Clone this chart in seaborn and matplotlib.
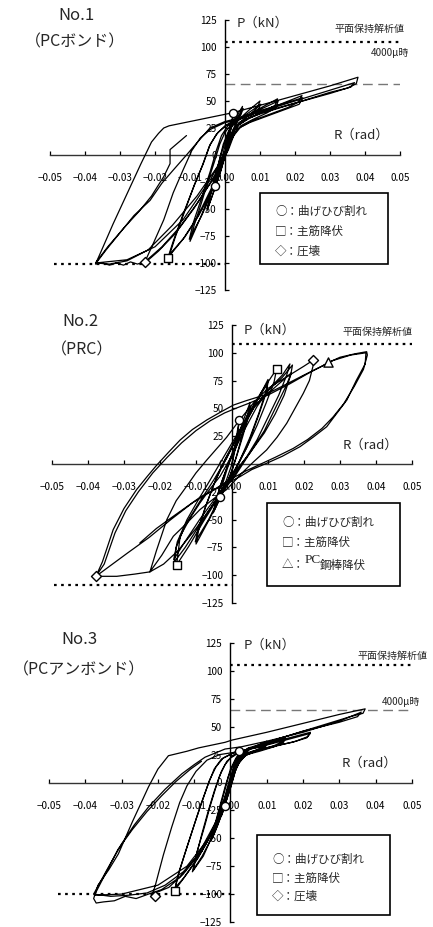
import matplotlib
matplotlib.use("Agg")
import matplotlib.pyplot as plt
from matplotlib.patches import Rectangle
import seaborn as sns
import pandas as pd

sns.set_theme(style="white")
plt.rcParams['font.family'] = ['Noto Sans CJK JP', 'DejaVu Sans']
plt.rcParams['axes.unicode_minus'] = True

# ---------------------------------------------------------------------------
# Load–drift hysteresis records (R in rad, P in kN), digitised as (R, P) pairs
# ---------------------------------------------------------------------------

# No.1  PC bonded
no1_small = [(0, 0), (0.0008, 15), (0.0016, 28), (0.0024, 38), (0.0021, 31), (0.0013, 18), (0.0004, 5),
             (-0.0008, -10), (-0.0018, -20), (-0.0029, -29), (-0.0024, -20), (-0.0012, -6), (0.0, 8),
             (0.0012, 20), (0.0028, 33), (0.005, 45), (0.0046, 39), (0.0032, 30), (0.0018, 20), (0.0006, 6),
             (-0.0012, -15), (-0.003, -32), (-0.005, -50), (-0.0043, -38), (-0.003, -22), (-0.0017, -6),
             (-0.0005, 10), (0.001, 22), (0.003, 32), (0.0052, 43), (0.0045, 37), (0.003, 27), (0.0012, 12),
             (-0.0005, -6), (-0.0028, -30), (-0.0052, -52), (-0.0044, -40), (-0.0028, -20), (-0.0012, 0),
             (0.0002, 14), (0.0015, 25)]
no1_mid = [(0.004, 33), (0.007, 42), (0.01, 50), (0.0093, 44), (0.007, 37), (0.0045, 31), (0.0025, 24),
           (0.001, 12), (0.0, 0), (-0.0035, -30), (-0.007, -58), (-0.01, -80), (-0.0088, -65),
           (-0.0068, -45), (-0.0048, -24), (-0.003, -6), (-0.0015, 10), (0.0, 21), (0.0015, 27),
           (0.005, 35), (0.0102, 47), (0.0095, 42), (0.007, 35), (0.004, 28), (0.002, 20), (0.0005, 6),
           (-0.003, -28), (-0.0065, -55), (-0.0102, -78), (-0.009, -62), (-0.0065, -38), (-0.0042, -15),
           (-0.0025, 4), (-0.001, 18), (0.0008, 27), (0.006, 36), (0.011, 45), (0.015, 52), (0.0143, 46),
           (0.011, 40), (0.007, 34), (0.004, 28), (0.002, 20), (0.0008, 8), (-0.003, -25), (-0.008, -58),
           (-0.012, -78), (-0.0163, -95), (-0.0148, -80), (-0.012, -55), (-0.009, -30), (-0.0065, -10),
           (-0.0045, 8), (-0.0025, 19), (0.0, 27), (0.002, 30), (0.008, 39), (0.0152, 50), (0.0145, 44),
           (0.012, 39), (0.008, 33), (0.0045, 27), (0.0022, 18), (0.0008, 5), (-0.003, -28),
           (-0.0075, -56), (-0.0115, -76), (-0.0158, -92), (-0.0142, -76), (-0.0115, -52), (-0.0088, -28),
           (-0.0062, -8), (-0.0042, 10), (-0.002, 21), (0.001, 29)]
no1_22 = [(0.008, 38), (0.015, 46), (0.022, 55), (0.021, 49), (0.018, 44), (0.013, 38), (0.008, 32),
          (0.0045, 26), (0.0025, 18), (0.001, 5), (-0.003, -20), (-0.008, -45), (-0.013, -67),
          (-0.018, -85), (-0.0229, -99), (-0.0205, -82), (-0.0175, -60), (-0.0148, -35), (-0.012, -14),
          (-0.0095, 4), (-0.007, 16), (-0.004, 24), (0.0, 30), (0.003, 32), (0.01, 41), (0.0222, 53),
          (0.0212, 47), (0.017, 42), (0.012, 36), (0.007, 30), (0.0035, 24), (0.0015, 12), (0.0, -2),
          (-0.004, -25), (-0.009, -50), (-0.014, -72), (-0.019, -89), (-0.0222, -98), (-0.025, -101),
          (-0.027, -99), (-0.029, -102), (-0.031, -100), (-0.033, -102), (-0.035, -100), (-0.037, -101)]
no1_38 = [(-0.0355, -90), (-0.032, -64), (-0.028, -36), (-0.024, -8), (-0.021, 12), (-0.019, 20),
          (-0.0175, 25), (-0.016, 27), (-0.01, 31), (-0.004, 35), (0.002, 39), (0.01, 46), (0.02, 55),
          (0.03, 64), (0.038, 72), (0.0375, 66), (0.035, 62), (0.03, 58), (0.024, 52), (0.017, 45),
          (0.01, 38), (0.005, 32), (0.0025, 24), (0.001, 10), (-0.002, -10), (-0.008, -38), (-0.015, -65),
          (-0.022, -88), (-0.028, -98), (-0.033, -101), (-0.0368, -100), (-0.034, -88), (-0.03, -72),
          (-0.026, -56), (-0.0214, -42), (-0.018, -26), (-0.0148, -14), (-0.011, 0), (-0.0081, 11),
          (-0.0043, 25), (0.0, 31), (0.005, 35), (0.015, 45), (0.025, 55), (0.033, 63), (0.037, 67),
          (0.036, 63), (0.03, 57), (0.02, 48), (0.01, 39), (0.004, 30), (0.0015, 16), (0.0, 2),
          (-0.004, -22), (-0.012, -60), (-0.02, -85), (-0.028, -97), (-0.037, -100), (-0.0335, -85),
          (-0.029, -68), (-0.0245, -52), (-0.021, -38), (-0.0175, -20), (-0.0157, -8), (-0.0157, 5),
          (-0.011, 18)]

# No.2  PRC
no2_small = [(0, 0), (0.001, 20), (0.002, 39.6), (0.0017, 30), (0.001, 15), (0.0, 0), (-0.0015, -14),
             (-0.0033, -29.4), (-0.0028, -20), (-0.0015, -6), (0.0, 8), (0.0015, 22), (0.003, 38),
             (0.005, 55), (0.0045, 46), (0.003, 28), (0.0015, 10), (0.0, -6), (-0.002, -22), (-0.005, -42),
             (-0.0045, -33), (-0.003, -17), (-0.001, 0), (0.001, 14), (0.003, 33), (0.0052, 52),
             (0.0045, 42), (0.003, 25), (0.0012, 6), (-0.0005, -10), (-0.0025, -25), (-0.0052, -44),
             (-0.0044, -32), (-0.0025, -13), (-0.0005, 5), (0.0015, 22)]
no2_mid = [(0.004, 38), (0.007, 57), (0.01, 76), (0.0095, 66), (0.0075, 46), (0.005, 24), (0.002, 2),
           (0.0, -10), (-0.003, -28), (-0.006, -48), (-0.01, -72), (-0.0093, -60), (-0.0075, -40),
           (-0.005, -18), (-0.002, 4), (0.001, 22), (0.005, 47), (0.01, 73), (0.0093, 62), (0.0072, 42),
           (0.0045, 18), (0.0015, -2), (-0.003, -27), (-0.0065, -50), (-0.0102, -70), (-0.0092, -56),
           (-0.007, -35), (-0.0045, -14), (-0.0015, 6), (0.0015, 25), (0.004, 42), (0.008, 64),
           (0.0124, 85.4), (0.0117, 74), (0.0095, 55), (0.007, 35), (0.004, 14), (0.001, -4),
           (-0.003, -26), (-0.008, -52), (-0.012, -74), (-0.0154, -90.8), (-0.0144, -65), (-0.0115, -48),
           (-0.0089, -35), (-0.006, -22), (-0.0033, -11), (0.0004, 10), (0.003, 28), (0.007, 52),
           (0.011, 70), (0.014, 80), (0.0161, 90), (0.0152, 80), (0.013, 62), (0.01, 42), (0.007, 22),
           (0.004, 6), (0.001, -8), (-0.004, -30), (-0.009, -55), (-0.013, -75), (-0.016, -88),
           (-0.0155, -75), (-0.013, -55), (-0.009, -34), (-0.005, -14), (-0.0015, 5), (0.002, 28),
           (0.006, 50), (0.01, 66), (0.014, 78), (0.0168, 89), (0.0163, 80), (0.0145, 62), (0.012, 45),
           (0.009, 28), (0.005, 10), (0.001, -6), (-0.004, -28), (-0.009, -50), (-0.0135, -72),
           (-0.0162, -86), (-0.0152, -70), (-0.0125, -50), (-0.0095, -33), (-0.006, -14), (-0.002, 8),
           (0.002, 30), (0.006, 52)]
no2_22 = [(0.0165, 82), (0.015, 70), (0.012, 50), (0.009, 30), (0.005, 10), (0.001, -10), (-0.005, -35),
          (-0.01, -58), (-0.015, -78), (-0.019, -90), (-0.0228, -97), (-0.021, -78), (-0.0181, -50),
          (-0.0155, -33), (-0.0126, -20), (-0.01, -8), (-0.007, 3.6), (-0.0015, 24), (0.0022, 40),
          (0.006, 55), (0.01, 68), (0.015, 78), (0.02, 88), (0.0226, 93.5), (0.0225, 88), (0.0215, 75),
          (0.0198, 63.5), (0.0175, 50), (0.0152, 36.6), (0.0125, 24), (0.0096, 12.6), (0.006, 2),
          (0.0028, -8), (-0.0015, -23), (-0.005, -31), (-0.0089, -41), (-0.0125, -53), (-0.0163, -65),
          (-0.0195, -82), (-0.0228, -97), (-0.027, -99), (-0.032, -101), (-0.0378, -101)]
no2_38 = [(-0.036, -88), (-0.033, -59), (-0.03, -40), (-0.0265, -23), (-0.0235, -11), (-0.0209, -1),
          (-0.0175, 11), (-0.0144, 21.6), (-0.011, 31), (-0.007, 39.6), (-0.003, 47), (0.0004, 53),
          (0.004, 57), (0.009, 62), (0.014, 70), (0.02, 80), (0.025, 88), (0.0266, 91), (0.03, 96),
          (0.034, 99), (0.0374, 101), (0.0376, 98), (0.0365, 85), (0.034, 70), (0.031, 54), (0.028, 42),
          (0.025, 32), (0.021, 22), (0.017, 14), (0.012, 6), (0.008, 0), (0.004, -6), (0.0, -13),
          (-0.005, -23), (-0.011, -35), (-0.017, -50), (-0.023, -66), (-0.029, -80), (-0.034, -92),
          (-0.0378, -101), (-0.0355, -90), (-0.0325, -62), (-0.0295, -42), (-0.026, -25), (-0.022, -8),
          (-0.018, 6), (-0.014, 19), (-0.01, 30), (-0.006, 39), (-0.002, 46), (0.001, 50), (0.005, 55),
          (0.01, 62), (0.016, 72), (0.022, 83), (0.028, 93), (0.033, 98), (0.0372, 100), (0.037, 90),
          (0.0345, 75), (0.0319, 57.5), (0.029, 45), (0.0263, 33.5), (0.0225, 24), (0.0189, 15.6),
          (0.014, 7), (0.0096, 0.6), (0.0055, -5), (0.0022, -11.4), (-0.003, -20), (-0.0089, -30),
          (-0.0163, -47), (-0.021, -58), (-0.0256, -71)]

# No.3  PC unbonded
no3_small = [(0, 0), (0.001, 15), (0.0024, 27.8), (0.002, 22), (0.001, 10), (0.0, 0), (-0.0015, -21),
             (-0.0025, -30), (-0.002, -20), (-0.001, -6), (0.0, 6), (0.0015, 18), (0.003, 27), (0.005, 31),
             (0.0045, 27), (0.003, 22), (0.0015, 12), (0.0, -5), (-0.002, -24), (-0.0035, -38),
             (-0.005, -50), (-0.0044, -40), (-0.0032, -26), (-0.0018, -10), (-0.0006, 5), (0.0008, 16),
             (0.002, 24), (0.0052, 30), (0.0046, 27), (0.003, 22), (0.0013, 10), (-0.0003, -8),
             (-0.0022, -27), (-0.004, -42), (-0.0053, -52), (-0.0045, -40), (-0.003, -22), (-0.0015, -4),
             (0.0, 12), (0.0015, 22)]
no3_mid = [(0.005, 30), (0.008, 34), (0.01, 37), (0.0095, 33), (0.007, 29), (0.004, 25), (0.002, 18),
           (0.0008, 6), (-0.002, -22), (-0.005, -48), (-0.0075, -66), (-0.0105, -80), (-0.0095, -66),
           (-0.0078, -45), (-0.006, -24), (-0.0045, -8), (-0.003, 6), (-0.0015, 16), (0.0, 22), (0.002, 26),
           (0.006, 31), (0.0102, 35), (0.0096, 32), (0.007, 28), (0.004, 24), (0.0018, 15), (0.0005, 3),
           (-0.002, -24), (-0.0048, -47), (-0.0078, -66), (-0.0102, -78), (-0.0092, -62), (-0.0072, -40),
           (-0.0055, -20), (-0.004, -4), (-0.0025, 10), (-0.001, 19), (0.001, 25), (0.006, 31), (0.01, 35),
           (0.015, 41), (0.0145, 37), (0.012, 33), (0.008, 29), (0.005, 26), (0.0025, 20), (0.001, 8),
           (-0.002, -20), (-0.005, -45), (-0.009, -68), (-0.0125, -84), (-0.0154, -96.8), (-0.0145, -84),
           (-0.0122, -60), (-0.01, -38), (-0.008, -18), (-0.0062, -2), (-0.0045, 12), (-0.0025, 21),
           (0.0005, 26), (0.003, 28), (0.008, 33), (0.0152, 40), (0.0146, 36), (0.012, 32), (0.008, 28),
           (0.0045, 25), (0.0022, 18), (0.0006, 5), (-0.002, -20), (-0.0055, -48), (-0.0095, -70),
           (-0.013, -86), (-0.0152, -94), (-0.0142, -80), (-0.0118, -56), (-0.0095, -33), (-0.0075, -14),
           (-0.0058, 2), (-0.004, 14), (-0.002, 22), (0.001, 27)]
no3_22 = [(0.008, 32), (0.015, 39), (0.022, 45), (0.0212, 41), (0.018, 37), (0.013, 33), (0.008, 29),
          (0.004, 26), (0.002, 18), (0.0005, 4), (-0.0015, -15), (-0.004, -38), (-0.008, -62),
          (-0.013, -82), (-0.017, -94), (-0.0215, -100), (-0.0207, -92), (-0.0185, -65), (-0.0162, -40),
          (-0.014, -18), (-0.012, -3), (-0.0095, 10), (-0.0065, 20), (-0.003, 25), (0.001, 27),
          (0.007, 31), (0.014, 37), (0.022, 44), (0.021, 40), (0.017, 36), (0.011, 32), (0.006, 28),
          (0.003, 24), (0.001, 12), (-0.001, -8), (-0.004, -35), (-0.009, -65), (-0.014, -85),
          (-0.019, -96), (-0.0226, -100), (-0.026, -104), (-0.029, -102), (-0.032, -106), (-0.035, -107),
          (-0.037, -108), (-0.0377, -104)]
no3_38 = [(-0.0365, -92), (-0.0335, -78), (-0.0309, -64), (-0.027, -35), (-0.0226, -4), (-0.02, 12),
          (-0.0171, 24), (-0.012, 28), (-0.0088, 31), (-0.0015, 36), (0.0004, 38), (0.01, 45), (0.02, 53),
          (0.03, 61), (0.0371, 66), (0.0365, 62), (0.033, 59), (0.028, 54), (0.022, 48), (0.016, 42),
          (0.01, 36), (0.005, 31), (0.0025, 25), (0.001, 12), (-0.001, -10), (-0.004, -38), (-0.008, -62),
          (-0.013, -80), (-0.018, -92), (-0.023, -99), (-0.028, -101), (-0.033, -102), (-0.0377, -100),
          (-0.034, -78), (-0.03, -55), (-0.0265, -38), (-0.0226, -22), (-0.018, -6), (-0.0134, 7.8),
          (-0.01, 16), (-0.007, 22.7), (-0.0015, 30), (0.003, 32), (0.01, 37), (0.02, 45), (0.03, 55),
          (0.036, 63), (0.035, 59), (0.03, 54), (0.02, 46), (0.012, 38), (0.006, 31), (0.003, 25),
          (0.001, 10), (-0.002, -20), (-0.006, -50), (-0.012, -75), (-0.02, -92), (-0.03, -100),
          (-0.0375, -101), (-0.0345, -82), (-0.031, -60), (-0.027, -42), (-0.023, -26), (-0.019, -12),
          (-0.015, 1), (-0.011, 12), (-0.008, 19)]

# Event markers (R, P)
no1_crack = [(0.0024, 38.6), (-0.0029, -29)]
no1_yield = [(-0.0163, -95)]
no1_crush = [(-0.0229, -99)]
no2_crack = [(0.002, 39.6), (-0.0033, -29.4)]
no2_yield = [(0.0124, 85.4), (-0.0154, -90.8)]
no2_crush = [(0.0226, 93.5), (-0.0378, -100.4)]
no2_pcyield = [(0.0266, 92)]
no3_crack = [(0.0024, 27.8), (-0.0015, -21)]
no3_yield = [(-0.0154, -96.8)]
no3_crush = [(-0.0207, -102)]

# Reference strength lines (kN)
no1_plane_pos, no1_plane_neg, no1_4000 = 105, -101, 66
no2_plane_pos, no2_plane_neg = 108, -109
no3_plane_pos, no3_plane_neg, no3_4000 = 105, -100, 65

x_ticks = [-0.05, -0.04, -0.03, -0.02, -0.01, 0.0, 0.01, 0.02, 0.03, 0.04, 0.05]
y_ticks = [-125, -100, -75, -50, -25, 0, 25, 50, 75, 100, 125]

W, H = 433, 927
fig = plt.figure(figsize=(W / 100, H / 100), dpi=100)
fig.patch.set_facecolor("white")


def axes_px(left, top, right, bottom):
    return fig.add_axes([left / W, 1 - bottom / H, (right - left) / W, (bottom - top) / H])


def loop_frame(segments):
    pts = [pt for seg in segments for pt in seg]
    return pd.DataFrame({"R": [p[0] for p in pts], "P": [p[1] for p in pts],
                         "step": range(len(pts))})


def style_axes(ax):
    ax.set_xlim(-0.05, 0.05)
    ax.set_ylim(-125, 125)
    ax.set_facecolor("none")
    for side in ("top", "right"):
        ax.spines[side].set_visible(False)
    ax.spines["left"].set_position(("data", 0))
    ax.spines["bottom"].set_position(("data", 0))
    ax.spines["left"].set_color("black")
    ax.spines["bottom"].set_color("#333333")
    ax.spines["left"].set_linewidth(1.0)
    ax.spines["bottom"].set_linewidth(1.0)
    ax.set_xticks(x_ticks)
    ax.set_yticks(y_ticks)
    ax.set_xticklabels([f"{v:.2f}".replace("-", "\u2212") for v in x_ticks])
    ax.set_yticklabels([f"{v}".replace("-", "\u2212") for v in y_ticks])
    ax.tick_params(axis="x", direction="in", length=3, width=0.9, pad=13, labelsize=7.2,
                   colors="black", bottom=True)
    ax.tick_params(axis="y", direction="in", length=3, width=0.9, pad=6, labelsize=7.2,
                   colors="black", left=True)
    ax.set_xlabel("")
    ax.set_ylabel("")


def draw_markers(ax, pts, marker, size):
    sns.scatterplot(x=[p[0] for p in pts], y=[p[1] for p in pts], marker=marker, s=size,
                    color="white", edgecolor="black", linewidth=1.0, ax=ax, zorder=5, legend=False)


def draw_panel(ax, segments, crack, yld, crush, extra=None):
    df = loop_frame(segments)
    sns.lineplot(data=df, x="R", y="P", sort=False, estimator=None, color="black",
                 linewidth=0.9, ax=ax, zorder=3)
    draw_markers(ax, crack, "o", 34)
    draw_markers(ax, yld, "s", 34)
    draw_markers(ax, crush, "D", 26)
    if extra:
        draw_markers(ax, extra, "^", 44)
    style_axes(ax)


def dotted(ax, x0, x1, y):
    ax.plot([x0, x1], [y, y], color="black", lw=1.6, linestyle=(0, (1.2, 2.0)), zorder=2)


def dashed(ax, x0, x1, y):
    ax.plot([x0, x1], [y, y], color="#777777", lw=1.0, linestyle=(0, (7, 4)), zorder=2)


def legend_box(left, top, right, bottom):
    fig.add_artist(Rectangle((left / W, 1 - bottom / H), (right - left) / W, (bottom - top) / H,
                             transform=fig.transFigure, facecolor="white", edgecolor="black",
                             linewidth=1.2, zorder=6))


def fig_text(x, y, s, size, **kw):
    fig.text(x / W, 1 - y / H, s, fontsize=size, va="center", zorder=7, **kw)


# ---------------- No.1 ----------------
ax1 = axes_px(50, 20, 400, 290)
draw_panel(ax1, [no1_small, no1_mid, no1_22, no1_38], no1_crack, no1_yield, no1_crush)
dotted(ax1, 0.0, 0.05, no1_plane_pos)
dotted(ax1, -0.0488, 0.0, no1_plane_neg)
dashed(ax1, 0.0, 0.05, no1_4000)
ax1.text(0.0414, 116.5, "平面保持解析値", fontsize=7.2, ha="center", va="center")
ax1.text(0.0472, 94.5, "4000\u03bc時", fontsize=7.2, ha="center", va="center")
ax1.text(0.0032, 122, "P（kN）", fontsize=9.5, ha="left", va="center")
ax1.text(0.0468, 18.5, "R（rad）", fontsize=9.5, ha="right", va="center")
fig_text(77, 15, "No.1", 12, ha="center")
fig_text(75, 42, "（PCボンド）", 11.5, ha="center")
legend_box(260, 193, 388, 264)
fig_text(275, 211.5, "○：曲げひび割れ", 8.3, ha="left")
fig_text(275, 231.5, "□：主筋降伏", 8.3, ha="left")
fig_text(275, 251, "◇：圧壊", 8.3, ha="left")

# ---------------- No.2 ----------------
ax2 = axes_px(52, 325, 412, 603)
draw_panel(ax2, [no2_small, no2_mid, no2_22, no2_38], no2_crack, no2_yield, no2_crush, no2_pcyield)
dotted(ax2, 0.0, 0.05, no2_plane_pos)
dotted(ax2, -0.0495, 0.0, no2_plane_neg)
ax2.text(0.0404, 118.5, "平面保持解析値", fontsize=7.2, ha="center", va="center")
ax2.text(0.0032, 120.5, "P（kN）", fontsize=9.5, ha="left", va="center")
ax2.text(0.0462, 17, "R（rad）", fontsize=9.5, ha="right", va="center")
fig_text(80, 322, "No.2", 12, ha="center")
fig_text(82, 350, "（PRC）", 11.5, ha="center")
legend_box(267, 503, 400, 586)
fig_text(282, 522, "○：曲げひび割れ", 8.3, ha="left")
fig_text(282, 542, "□：主筋降伏", 8.3, ha="left")
fig_text(282, 564, "△：", 8.3, ha="left")
fig.text(305 / W, 1 - 560 / H, "PC", fontsize=9.5, va="center", ha="left", zorder=7,
         family=["Liberation Serif", "DejaVu Serif"])
fig_text(320, 565, "鋼棒降伏", 8.3, ha="left")

# ---------------- No.3 ----------------
ax3 = axes_px(49, 643, 412, 922)
draw_panel(ax3, [no3_small, no3_mid, no3_22, no3_38], no3_crack, no3_yield, no3_crush)
dotted(ax3, 0.0, 0.05, no3_plane_pos)
dotted(ax3, -0.0474, 0.0, no3_plane_neg)
dashed(ax3, 0.0, 0.05, no3_4000)
ax3.text(0.0445, 113.8, "平面保持解析値", fontsize=7.2, ha="center", va="center")
ax3.text(0.047, 71.7, "4000\u03bc時", fontsize=7.2, ha="center", va="center")
ax3.text(0.0035, 122.8, "P（kN）", fontsize=9.5, ha="left", va="center")
ax3.text(0.0458, 17, "R（rad）", fontsize=9.5, ha="right", va="center")
fig_text(79, 640, "No.3", 12, ha="center")
fig_text(79, 670, "（PCアンボンド）", 11.5, ha="center")
legend_box(257, 835, 390, 915)
fig_text(272, 859, "○：曲げひび割れ", 8.3, ha="left")
fig_text(272, 878, "□：主筋降伏", 8.3, ha="left")
fig_text(272, 896, "◇：圧壊", 8.3, ha="left")

fig.savefig("out.png", dpi=100, facecolor="white")
